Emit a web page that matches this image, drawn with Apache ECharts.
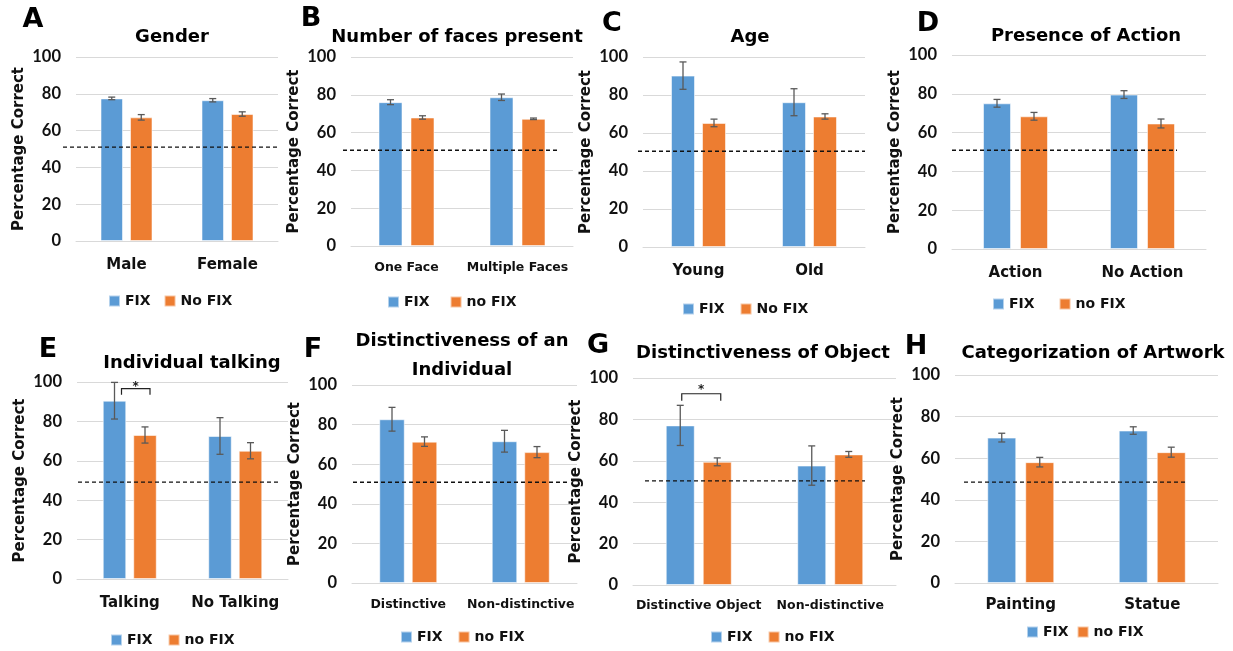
<!DOCTYPE html>
<html>
<head>
<meta charset="utf-8">
<script src="https://cdn.jsdelivr.net/npm/echarts@6/dist/echarts.min.js"></script>
<style>html,body{margin:0;padding:0;background:#fff;}#c{width:1233px;height:651px;}</style>
</head>
<body>
<div id="c"></div>
<script>
// ---------- DATA ----------
const catsA = ['Male', 'Female'];
const fixA = [77.5, 76.5];      const fixErrA = [0.7, 0.9];
const noFixA = [67.2, 69.0];    const noFixErrA = [1.5, 1.2];
const chanceA = 51.0;

const catsB = ['One Face', 'Multiple Faces'];
const fixB = [76.1, 78.7];      const fixErrB = [1.3, 1.7];
const noFixB = [68.0, 67.3];    const noFixErrB = [0.9, 0.4];
const chanceB = 50.7;

const catsC = ['Young', 'Old'];
const fixC = [90.2, 76.2];      const fixErrC = [7.2, 7.1];
const noFixC = [65.3, 68.7];    const noFixErrC = [2.0, 1.4];
const chanceC = 50.4;

const catsD = ['Action', 'No Action'];
const fixD = [75.1, 79.6];      const fixErrD = [2.0, 2.0];
const noFixD = [68.4, 64.7];    const noFixErrD = [2.0, 2.3];
const chanceD = 50.9;

const catsE = ['Talking', 'No Talking'];
const fixE = [90.5, 72.6];      const fixErrE = [9.3, 9.3];
const noFixE = [73.1, 65.1];    const noFixErrE = [4.1, 4.1];
const chanceE = 49.2;

const catsF = ['Distinctive', 'Non-distinctive'];
const fixF = [82.7, 71.6];      const fixErrF = [6.0, 5.5];
const noFixF = [71.4, 66.1];    const noFixErrF = [2.4, 2.8];
const chanceF = 50.9;

const catsG = ['Distinctive Object', 'Non-distinctive'];
const fixG = [77.1, 57.7];      const fixErrG = [9.7, 9.5];
const noFixG = [59.5, 63.1];    const noFixErrG = [1.9, 1.4];
const chanceG = 50.3;

const catsH = ['Painting', 'Statue'];
const fixH = [69.9, 73.3];      const fixErrH = [2.1, 1.8];
const noFixH = [58.1, 62.9];    const noFixErrH = [2.3, 2.4];
const chanceH = 48.5;

const panelLetters = ['A', 'B', 'C', 'D', 'E', 'F', 'G', 'H'];
const panelTitles = ['Gender', 'Number of faces present', 'Age', 'Presence of Action',
  'Individual talking', 'Distinctiveness of an\nIndividual', 'Distinctiveness of Object', 'Categorization of Artwork'];
const fixName = 'FIX';
const noFixNames = ['No FIX', 'no FIX', 'No FIX', 'no FIX', 'no FIX', 'no FIX', 'no FIX', 'no FIX'];
const yTicks = [0, 20, 40, 60, 80, 100];
const yName = 'Percentage Correct';
// significance brackets: [category index, bracket level, tick bottom, star level]
const sigE = [[0, 96.6, 93.5, 99.2]];
const sigG = [[0, 92.4, 89.0, 95.6]];

// ---------- LAYOUT (pixels / styles) ----------
const L = [
  {l:76,  t:57,  w:202, h:184, bw:22.5, gap:7, cfs:15,   cm:17, dl:-13, dr:0,   lx:108,  ly:302, lg:13, letter:[33,20],  title:[172,37]},
  {l:351, t:57,  w:222, h:189, bw:24,   gap:8, cfs:12.5, cm:15, dl:-8,  dr:-16, lx:387,  ly:303, lg:20, letter:[311,19], title:[457,37]},
  {l:643, t:57,  w:222, h:190, bw:24,   gap:7, cfs:15,   cm:17, dl:-5,  dr:0,   lx:682,  ly:310, lg:15, letter:[612,24], title:[750,37]},
  {l:952, t:55,  w:254, h:194, bw:28,   gap:9, cfs:15,   cm:17, dl:0,   dr:-29, lx:992,  ly:305, lg:24, letter:[928,24], title:[1086,36]},
  {l:77,  t:382, w:211, h:197, bw:23.5, gap:7, cfs:15,   cm:17, dl:1,   dr:-10, lx:110,  ly:641, lg:15, letter:[48,350], title:[192,363]},
  {l:352, t:385, w:225, h:198, bw:25.5, gap:7, cfs:12.5, cm:15, dl:1,   dr:-9,  lx:400,  ly:638, lg:15, letter:[313,350],title:[462,355.5]},
  {l:633, t:378, w:263, h:207, bw:29,   gap:8, cfs:12.5, cm:14, dl:12,  dr:-31, lx:710,  ly:638, lg:15, letter:[598,346],title:[763,353]},
  {l:955, t:375, w:263, h:208, bw:29,   gap:9, cfs:15,   cm:15, dl:9,   dr:-31, lx:1026, ly:633, lg:8,  letter:[916,347],title:[1093,353]}
];
const sigOffsets = [null, null, null, null, [7, 5], null, [1.5, 3.5], null];

const FONT = '"DejaVu Sans", sans-serif';
const TICKFONT = 'Lato, "DejaVu Sans", sans-serif';
const BLUE = '#5B9BD5', ORANGE = '#ED7D31';

const panels = [
  [catsA, fixA, fixErrA, noFixA, noFixErrA, chanceA, null],
  [catsB, fixB, fixErrB, noFixB, noFixErrB, chanceB, null],
  [catsC, fixC, fixErrC, noFixC, noFixErrC, chanceC, null],
  [catsD, fixD, fixErrD, noFixD, noFixErrD, chanceD, null],
  [catsE, fixE, fixErrE, noFixE, noFixErrE, chanceE, sigE],
  [catsF, fixF, fixErrF, noFixF, noFixErrF, chanceF, null],
  [catsG, fixG, fixErrG, noFixG, noFixErrG, chanceG, sigG],
  [catsH, fixH, fixErrH, noFixH, noFixErrH, chanceH, null]
];

const grids = [], xAxes = [], yAxes = [], series = [], legends = [], graphics = [];

function errSeries(gi, vals, errs, sign, lay) {
  return {
    type: 'custom', name: 'err' + gi, xAxisIndex: gi, yAxisIndex: gi, z: 5, silent: true,
    data: vals.map((v, i) => [i, v, errs[i]]),
    renderItem: (params, api) => {
      const i = api.value(0), v = api.value(1), e = api.value(2);
      const x = api.coord([i, v])[0] + sign * (lay.bw + lay.gap) / 2;
      const yT = api.coord([i, v + e])[1];
      const yB = api.coord([i, v - e])[1];
      const st = {stroke: '#595959', lineWidth: 1.3};
      return {type: 'group', children: [
        {type: 'line', shape: {x1: x, y1: yT, x2: x, y2: yB}, style: st},
        {type: 'line', shape: {x1: x - 3.5, y1: yT, x2: x + 3.5, y2: yT}, style: st},
        {type: 'line', shape: {x1: x - 3.5, y1: yB, x2: x + 3.5, y2: yB}, style: st}
      ]};
    }
  };
}

panels.forEach((p, gi) => {
  const [cats, fix, fixErr, noFix, noFixErr, chance, sig] = p;
  const lay = L[gi];
  grids.push({left: lay.l, top: lay.t, width: lay.w, height: lay.h, outerBoundsMode: 'none', containLabel: false});
  xAxes.push({
    type: 'category', gridIndex: gi, data: cats,
    axisLine: {show: true, lineStyle: {color: '#D9D9D9', width: 1}},
    axisTick: {show: false},
    axisLabel: {margin: lay.cm, fontFamily: FONT, fontWeight: 'bold', fontSize: lay.cfs, color: '#111', interval: 0}
  });
  yAxes.push({
    type: 'value', gridIndex: gi, min: 0, max: 100, interval: 20,
    name: yName, nameLocation: 'middle', nameGap: 49,
    nameTextStyle: {fontFamily: FONT, fontWeight: 'bold', fontSize: 15, color: '#111'},
    axisLine: {show: false}, axisTick: {show: false},
    splitLine: {lineStyle: {color: '#D9D9D9', width: 1}},
    axisLabel: {margin: 15, fontFamily: TICKFONT, fontWeight: 'bold', fontSize: 16.5, color: '#111',
      formatter: v => (yTicks.indexOf(v) >= 0 ? String(v) : '')}
  });
  const barGap = (lay.gap / lay.bw * 100) + '%';
  series.push({
    type: 'bar', name: fixName, xAxisIndex: gi, yAxisIndex: gi, data: fix, barWidth: lay.bw, barGap: barGap,
    itemStyle: {color: BLUE, borderColor: 'rgba(255,255,255,0.55)', borderWidth: 1}, silent: true
  });
  series.push({
    type: 'bar', name: noFixNames[gi], xAxisIndex: gi, yAxisIndex: gi, data: noFix, barWidth: lay.bw, barGap: barGap,
    itemStyle: {color: ORANGE, borderColor: 'rgba(255,255,255,0.55)', borderWidth: 1}, silent: true
  });
  series.push(errSeries(gi, fix, fixErr, -1, lay));
  series.push(errSeries(gi, noFix, noFixErr, 1, lay));
  series.push({
    type: 'custom', name: 'chance' + gi, xAxisIndex: gi, yAxisIndex: gi, z: 6, silent: true,
    data: [[0, chance]],
    renderItem: (params, api) => {
      const cs = params.coordSys;
      const y = api.coord([0, api.value(1)])[1];
      return {type: 'line', shape: {x1: cs.x + lay.dl, y1: y, x2: cs.x + cs.width + lay.dr, y2: y},
        style: {stroke: '#111', lineWidth: 1.4, lineDash: [4, 3]}};
    }
  });
  if (sig) {
    const off = sigOffsets[gi];
    series.push({
      type: 'custom', name: 'sig' + gi, xAxisIndex: gi, yAxisIndex: gi, z: 7, silent: true,
      data: sig,
      renderItem: (params, api) => {
        const i = api.value(0);
        const cx = api.coord([i, 0])[0];
        const x1 = cx - (lay.bw + lay.gap) / 2 + off[0];
        const x2 = cx + (lay.bw + lay.gap) / 2 + off[1];
        const yl = api.coord([i, api.value(1)])[1];
        const yt = api.coord([i, api.value(2)])[1];
        const ys = api.coord([i, api.value(3)])[1];
        return {type: 'group', children: [
          {type: 'polyline', shape: {points: [[x1, yt], [x1, yl], [x2, yl], [x2, yt]]},
            style: {stroke: '#222', lineWidth: 1.2, fill: null}},
          {type: 'text', x: (x1 + x2) / 2, y: ys + 3,
            style: {text: '*', fill: '#222', font: 'bold 12px ' + FONT, align: 'center', verticalAlign: 'middle'}}
        ]};
      }
    });
  }
  legends.push({
    data: [fixName, noFixNames[gi]], left: lay.lx, top: lay.ly - 8, orient: 'horizontal',
    icon: 'rect', itemWidth: 11, itemHeight: 11, itemGap: lay.lg, padding: 0, selectedMode: false,
    textStyle: {fontFamily: FONT, fontWeight: 'bold', fontSize: 14, color: '#111'}
  });
  graphics.push({type: 'text', x: lay.letter[0], y: lay.letter[1],
    style: {text: panelLetters[gi], font: 'bold 27px ' + FONT, fill: '#000', align: 'center', verticalAlign: 'middle'}});
  graphics.push({type: 'text', x: lay.title[0], y: lay.title[1],
    style: {text: panelTitles[gi], font: 'bold 18px ' + FONT, fill: '#000', align: 'center', verticalAlign: 'middle', lineHeight: 29}});
});

const chart = echarts.init(document.getElementById('c'), null, {renderer: 'canvas'});
chart.setOption({
  animation: false,
  backgroundColor: '#fff',
  grid: grids, xAxis: xAxes, yAxis: yAxes, series: series, legend: legends,
  graphic: {elements: graphics}
});
</script>
</body>
</html>
